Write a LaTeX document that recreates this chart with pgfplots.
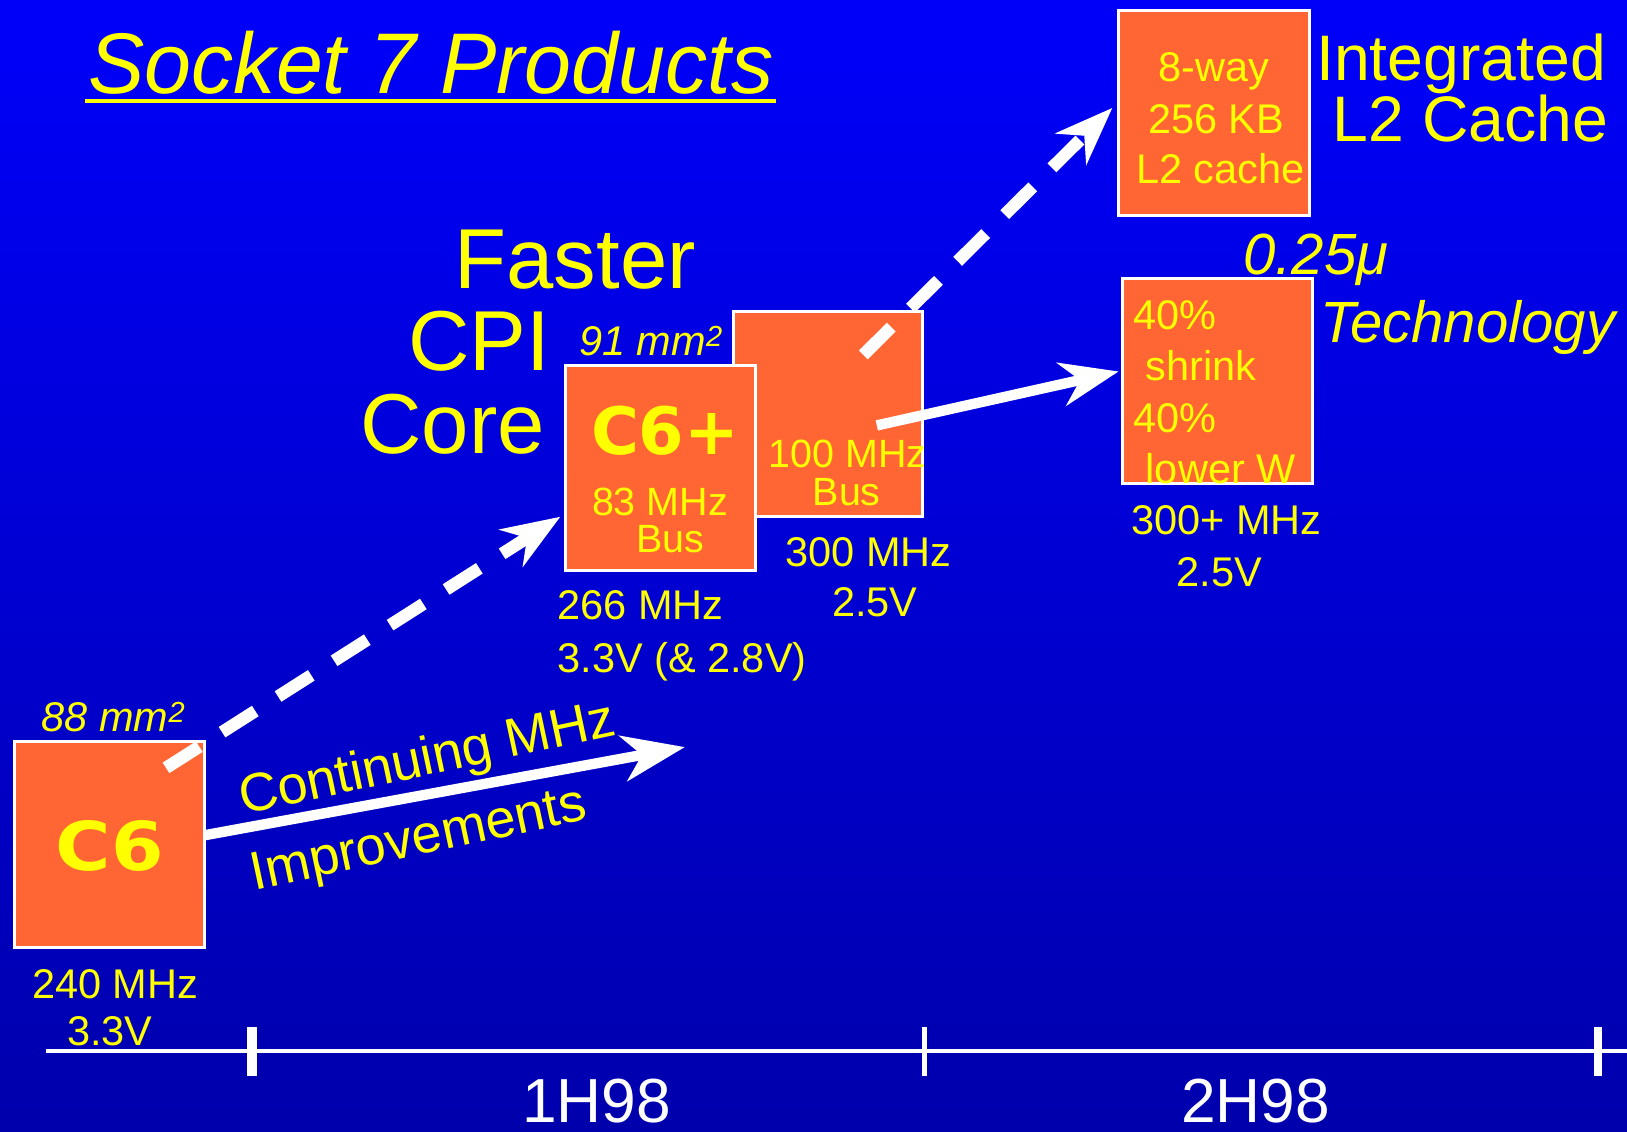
\documentclass[border=0pt]{standalone}
\usepackage{pgfplots}
\pgfplotsset{compat=1.18}
\usepackage{fontspec}
\setmainfont{Liberation Sans}
\newfontfamily\heavy{DejaVu Sans}
\usetikzlibrary{arrows.meta}
\definecolor{boxor}{RGB}{255,102,51}
\definecolor{yel}{RGB}{255,255,0}
\definecolor{bgtop}{RGB}{0,0,250}
\definecolor{bgbot}{RGB}{0,0,172}
\newcommand{\fs}[1]{\fontsize{#1}{#1}\selectfont}
\begin{document}
\begin{tikzpicture}
\begin{axis}[width=1568pt,height=1090pt,scale only axis,
  xmin=0,xmax=1568,ymin=0,ymax=1090,y dir=reverse,hide axis,clip=false]
% background
\fill[top color=bgtop,bottom color=bgbot] (axis cs:0,0) rectangle (axis cs:1568,1090);
\coordinate (BL) at (axis cs:0,1090);
\coordinate (TR) at (axis cs:1568,0);
% boxes
\addplot[fill=boxor,draw=white,line width=3pt] coordinates {(1078,10) (1262,10) (1262,208) (1078,208)} -- cycle;
\addplot[fill=boxor,draw=white,line width=3pt] coordinates {(1082,268) (1265,268) (1265,466) (1082,466)} -- cycle;
\addplot[fill=boxor,draw=white,line width=3pt] coordinates {(707,300) (889,300) (889,498) (707,498)} -- cycle;
\addplot[fill=boxor,draw=white,line width=3pt] coordinates {(545,352) (728,352) (728,550) (545,550)} -- cycle;
\addplot[fill=boxor,draw=white,line width=3pt] coordinates {(14,715) (197,715) (197,913) (14,913)} -- cycle;
% title underline
\addplot[yel,line width=4pt] coordinates {(82,97) (748,97)};
% timeline
\addplot[white,line width=4pt] coordinates {(44,1013) (1568,1013)};
\addplot[white,line width=10pt] coordinates {(243,990) (243,1037)};
\addplot[white,line width=4pt] coordinates {(891,990) (891,1037)};
\addplot[white,line width=8pt] coordinates {(1540,990) (1540,1037)};
% arrows
\addplot[white,line width=12pt,dash pattern=on 38pt off 26pt,-{Stealth[length=56pt,width=42pt,inset=18pt]}] coordinates {(160,740) (540,498)};
\addplot[white,line width=12pt,dash pattern=on 38pt off 26pt,-{Stealth[length=56pt,width=42pt,inset=18pt]}] coordinates {(832,342) (1072,104)};
\addplot[white,line width=10pt,-{Stealth[length=56pt,width=42pt,inset=18pt]}] coordinates {(845,410) (1078,358)};
\addplot[white,line width=10pt,-{Stealth[length=60pt,width=44pt,inset=18pt]}] coordinates {(197,805) (660,720)};
% texts
\node[yel,anchor=base west,inner sep=0pt,xscale=0.98] at (axis cs:85,90) {\fs{83}\itshape Socket 7 Products};
\node[yel,anchor=base,inner sep=0pt] at (axis cs:1170,79) {\fs{40}8-way};
\node[yel,anchor=base,inner sep=0pt] at (axis cs:1172,129) {\fs{40}256 KB};
\node[yel,anchor=base,inner sep=0pt] at (axis cs:1176,177) {\fs{40}L2 cache};
\node[yel,anchor=base east,inner sep=0pt] at (axis cs:1548,78) {\fs{62}Integrated};
\node[yel,anchor=base east,inner sep=0pt] at (axis cs:1550,136) {\fs{62}L2 Cache};
\node[yel,anchor=base west,inner sep=0pt] at (axis cs:1198,265) {\fs{56}\itshape 0.25μ};
\node[yel,anchor=base west,inner sep=0pt] at (axis cs:1272,330) {\fs{56}\itshape Technology};
\node[yel,anchor=base west,inner sep=0pt] at (axis cs:1092,318) {\fs{40}40\%};
\node[yel,anchor=base west,inner sep=0pt] at (axis cs:1104,367) {\fs{40}shrink};
\node[yel,anchor=base west,inner sep=0pt] at (axis cs:1092,417) {\fs{40}40\%};
\node[yel,anchor=base west,inner sep=0pt] at (axis cs:1104,466) {\fs{40}lower W};
\node[yel,anchor=base,inner sep=0pt] at (axis cs:1182,515) {\fs{40}300+ MHz};
\node[yel,anchor=base,inner sep=0pt] at (axis cs:1175,565) {\fs{40}2.5V};
\node[yel,anchor=base west,inner sep=0pt] at (axis cs:438,278) {\fs{82}Faster};
\node[yel,anchor=base west,inner sep=0pt] at (axis cs:393,357) {\fs{82}CPI};
\node[yel,anchor=base west,inner sep=0pt] at (axis cs:347,437) {\fs{82}Core};
\node[yel,anchor=base west,inner sep=0pt] at (axis cs:558,343) {\fs{40}\itshape 91 mm\textsuperscript{2}};
\node[yel,anchor=base,inner sep=0pt] at (axis cs:641,438) {\fs{63}\heavy\bfseries C6+};
\node[yel,anchor=base,inner sep=0pt] at (axis cs:636,497) {\fs{38}83 MHz};
\node[yel,anchor=base,inner sep=0pt] at (axis cs:646,532) {\fs{38}Bus};
\node[yel,anchor=base,inner sep=0pt] at (axis cs:817,451) {\fs{38}100 MHz};
\node[yel,anchor=base,inner sep=0pt] at (axis cs:816,487) {\fs{38}Bus};
\node[yel,anchor=base,inner sep=0pt] at (axis cs:837,546) {\fs{40}300 MHz};
\node[yel,anchor=base,inner sep=0pt] at (axis cs:843,594) {\fs{40}2.5V};
\node[yel,anchor=base west,inner sep=0pt] at (axis cs:537,597) {\fs{40}266 MHz};
\node[yel,anchor=base west,inner sep=0pt] at (axis cs:537,648) {\fs{40}3.3V (\& 2.8V)};
\node[yel,anchor=base west,inner sep=0pt] at (axis cs:40,705) {\fs{40}\itshape 88 mm\textsuperscript{2}};
\node[yel,anchor=base,inner sep=0pt,xscale=1.12] at (axis cs:106,839) {\fs{65}\heavy\bfseries C6};
\node[yel,anchor=base,inner sep=0pt] at (axis cs:111,962) {\fs{40}240 MHz};
\node[yel,anchor=base,inner sep=0pt] at (axis cs:106,1008) {\fs{40}3.3V};
\node[yel,anchor=base west,inner sep=0pt,rotate=12] at (axis cs:234,785) {\fs{52}Continuing MHz};
\node[yel,anchor=base west,inner sep=0pt,rotate=12] at (axis cs:245,858) {\fs{52}Improvements};
\node[white,anchor=base,inner sep=0pt] at (axis cs:575,1082) {\fs{60}1H98};
\node[white,anchor=base,inner sep=0pt] at (axis cs:1210,1082) {\fs{60}2H98};
\end{axis}
\pgfresetboundingbox
\useasboundingbox (BL) rectangle (TR);
\end{tikzpicture}
\end{document}
